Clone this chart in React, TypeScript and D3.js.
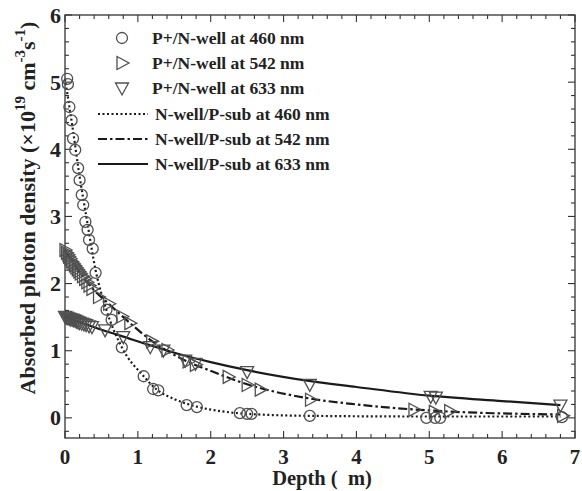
import React, { useEffect, useRef } from "react";
import * as d3 from "d3";

const W = 582;
const H = 491;

const xTicks = [0, 1, 2, 3, 4, 5, 6, 7];
const yTicks = [0, 1, 2, 3, 4, 5, 6];

// P+/N-well at 460 nm (circles)
const c460x = [0.03, 0.04, 0.06, 0.09, 0.11, 0.14, 0.18, 0.2, 0.23, 0.25, 0.28, 0.31, 0.33, 0.38, 0.42, 0.57, 0.64, 0.78, 1.08, 1.21, 1.28, 1.67, 1.81, 2.4, 2.5, 2.56, 3.36, 4.96, 5.08, 5.15, 6.82];
const c460y = [5.05, 4.97, 4.63, 4.43, 4.16, 3.99, 3.72, 3.54, 3.32, 3.17, 2.92, 2.8, 2.65, 2.52, 2.16, 1.61, 1.46, 1.05, 0.62, 0.43, 0.41, 0.19, 0.16, 0.07, 0.06, 0.06, 0.03, 0.0, 0.0, 0.0, 0.01];

// P+/N-well at 542 nm (right triangles)
const t542x = [0.0, 0.02, 0.04, 0.05, 0.07, 0.09, 0.11, 0.13, 0.15, 0.17, 0.19, 0.21, 0.24, 0.27, 0.3, 0.33, 0.37, 0.46, 0.6, 0.78, 0.89, 1.19, 1.4, 1.69, 1.79, 2.24, 2.5, 2.68, 3.37, 4.79, 5.07, 5.28, 6.83];
const t542y = [2.5, 2.46, 2.43, 2.4, 2.37, 2.33, 2.3, 2.27, 2.24, 2.21, 2.18, 2.15, 2.11, 2.07, 2.02, 1.97, 1.92, 1.8, 1.7, 1.51, 1.41, 1.14, 1.01, 0.84, 0.79, 0.61, 0.49, 0.42, 0.27, 0.12, 0.09, 0.1, 0.03];

// P+/N-well at 633 nm (down triangles)
const t633x = [0.0, 0.02, 0.04, 0.06, 0.08, 0.1, 0.12, 0.14, 0.16, 0.18, 0.2, 0.23, 0.26, 0.29, 0.33, 0.37, 0.55, 0.8, 1.17, 1.35, 1.65, 1.79, 2.5, 3.36, 5.02, 5.09, 6.8];
const t633y = [1.51, 1.5, 1.49, 1.48, 1.47, 1.47, 1.46, 1.45, 1.44, 1.43, 1.42, 1.41, 1.4, 1.39, 1.37, 1.36, 1.31, 1.21, 1.06, 1.01, 0.86, 0.81, 0.69, 0.5, 0.32, 0.31, 0.19];

// N-well/P-sub curves
const l460x = [0, 0.1, 0.2, 0.3, 0.42, 0.57, 0.78, 1.08, 1.25, 1.5, 1.8, 2.2, 2.5, 3.35, 5.0, 6.8];
const l460y = [5.05, 4.35, 3.6, 2.95, 2.2, 1.6, 1.05, 0.62, 0.43, 0.28, 0.17, 0.09, 0.06, 0.03, 0.02, 0.02];
const l542x = [0, 0.2, 0.4, 0.6, 0.8, 1.2, 1.6, 2.0, 2.5, 3.35, 4.0, 5.0, 6.8];
const l542y = [2.5, 2.17, 1.9, 1.7, 1.5, 1.14, 0.88, 0.7, 0.5, 0.29, 0.2, 0.11, 0.05];
const l633x = [0, 0.4, 0.8, 1.2, 1.6, 2.0, 2.5, 3.35, 4.0, 5.0, 6.0, 6.8];
const l633y = [1.51, 1.35, 1.21, 1.07, 0.94, 0.83, 0.71, 0.55, 0.46, 0.33, 0.25, 0.19];

const legendLabels = [
  "P+/N-well at 460 nm",
  "P+/N-well at 542 nm",
  "P+/N-well at 633 nm",
  "N-well/P-sub at 460 nm",
  "N-well/P-sub at 542 nm",
  "N-well/P-sub at 633 nm",
];

const FONT = "'Liberation Serif', 'Times New Roman', serif";

export default function App() {
  const ref = useRef<SVGSVGElement>(null);

  useEffect(() => {
    const svg = d3.select(ref.current);
    svg.selectAll("*").remove();

    const left = 65, right = 575, top = 15, bottom = 438;
    const x = d3.scaleLinear().domain([0, 7]).range([left, right]);
    const y = d3.scaleLinear().domain([-0.3, 6]).range([bottom, top]);

    const g = svg.append("g");

    // frame
    g.append("rect")
      .attr("x", left).attr("y", top)
      .attr("width", right - left).attr("height", bottom - top)
      .attr("fill", "none").attr("stroke", "#333").attr("stroke-width", 1.3);

    // ticks
    const xMinor = d3.range(0, 7.001, 0.2);
    const yMinor = d3.range(-0.2, 6.001, 0.2);
    const isMajor = (v: number) => Math.abs(v - Math.round(v)) < 1e-6;
    xMinor.forEach((v) => {
      const len = isMajor(v) ? 7 : 4;
      g.append("line").attr("x1", x(v)).attr("x2", x(v)).attr("y1", bottom).attr("y2", bottom - len).attr("stroke", "#333").attr("stroke-width", 1.1);
      g.append("line").attr("x1", x(v)).attr("x2", x(v)).attr("y1", top).attr("y2", top + len).attr("stroke", "#333").attr("stroke-width", 1.1);
    });
    yMinor.forEach((v) => {
      const len = isMajor(v) ? 7 : 4;
      g.append("line").attr("y1", y(v)).attr("y2", y(v)).attr("x1", left).attr("x2", left + len).attr("stroke", "#333").attr("stroke-width", 1.1);
      g.append("line").attr("y1", y(v)).attr("y2", y(v)).attr("x1", right).attr("x2", right - len).attr("stroke", "#333").attr("stroke-width", 1.1);
    });

    xTicks.forEach((v) => {
      g.append("text").attr("x", x(v)).attr("y", 464)
        .attr("text-anchor", "middle").attr("font-family", FONT).attr("font-weight", "bold")
        .attr("font-size", 21).attr("fill", "#222").text(String(v));
    });
    yTicks.forEach((v) => {
      g.append("text").attr("x", left - 4).attr("y", y(v) + 7.5)
        .attr("text-anchor", "end").attr("font-family", FONT).attr("font-weight", "bold")
        .attr("font-size", 22).attr("fill", "#222").text(String(v));
    });

    // axis titles
    g.append("text").attr("x", 322).attr("y", 485)
      .attr("text-anchor", "middle").attr("font-family", FONT).attr("font-weight", "bold")
      .attr("font-size", 20.5).attr("fill", "#222").text("Depth (\u00a0\u00a0m)");

    const yl = g.append("text")
      .attr("transform", `translate(35, 208) rotate(-90)`)
      .attr("text-anchor", "middle").attr("font-family", FONT).attr("font-weight", "bold")
      .attr("font-size", 22).attr("fill", "#222");
    yl.append("tspan").text("Absorbed photon density (\u00d710");
    yl.append("tspan").attr("dy", -10).attr("font-size", 15).text("19");
    yl.append("tspan").attr("dy", 10).text(" cm");
    yl.append("tspan").attr("dy", -10).attr("font-size", 15).text("-3");
    yl.append("tspan").attr("dy", 10).text("s");
    yl.append("tspan").attr("dy", -10).attr("font-size", 15).text("-1");
    yl.append("tspan").attr("dy", 10).text(")");

    // lines
    const lineGen = d3.line<[number, number]>()
      .x((d) => x(d[0])).y((d) => y(d[1])).curve(d3.curveMonotoneX);
    const mk = (xs: number[], ys: number[]) => xs.map((v, i) => [v, ys[i]] as [number, number]);
    const lineStyles = [
      { xs: l460x, ys: l460y, dash: "2,2.5" },
      { xs: l542x, ys: l542y, dash: "9,3,2.5,3" },
      { xs: l633x, ys: l633y, dash: null },
    ];
    lineStyles.forEach((s) => {
      const p = g.append("path").attr("d", lineGen(mk(s.xs, s.ys)) || "")
        .attr("fill", "none").attr("stroke", "#1a1a1a").attr("stroke-width", 2.2);
      if (s.dash) p.attr("stroke-dasharray", s.dash);
    });

    // markers
    const mColor = "#505050";
    const circle = (cx: number, cy: number) =>
      g.append("circle").attr("cx", cx).attr("cy", cy).attr("r", 5.5)
        .attr("fill", "none").attr("stroke", mColor).attr("stroke-width", 1.3);
    const rightTri = (cx: number, cy: number) =>
      g.append("path").attr("d", `M${cx - 5},${cy - 6.5}L${cx + 7},${cy}L${cx - 5},${cy + 6.5}Z`)
        .attr("fill", "none").attr("stroke", mColor).attr("stroke-width", 1.3);
    const downTri = (cx: number, cy: number) =>
      g.append("path").attr("d", `M${cx - 6.5},${cy - 5}L${cx + 6.5},${cy - 5}L${cx},${cy + 7}Z`)
        .attr("fill", "none").attr("stroke", mColor).attr("stroke-width", 1.3);

    c460x.forEach((v, i) => circle(x(v), y(c460y[i])));
    t542x.forEach((v, i) => rightTri(x(v), y(t542y[i])));
    t633x.forEach((v, i) => downTri(x(v), y(t633y[i])));

    // legend
    const rows = [38, 63, 88, 114, 139, 164];
    const symX = 122;
    circle(symX, rows[0]);
    rightTri(symX, rows[1]);
    downTri(symX, rows[2]);
    const legLines = [
      { dash: "2,2.5" },
      { dash: "9,3,2.5,3" },
      { dash: null },
    ];
    legLines.forEach((s, i) => {
      const l = g.append("line").attr("x1", 98).attr("x2", 148)
        .attr("y1", rows[3 + i]).attr("y2", rows[3 + i])
        .attr("stroke", "#1a1a1a").attr("stroke-width", 2.2);
      if (s.dash) l.attr("stroke-dasharray", s.dash);
    });
    legendLabels.forEach((t, i) => {
      g.append("text").attr("x", i < 3 ? 152 : 155).attr("y", rows[i] + 6)
        .attr("font-family", FONT).attr("font-weight", "bold")
        .attr("font-size", 17.5).attr("fill", "#222").text(t);
    });
  }, []);

  return (
    <svg
      ref={ref}
      width={W}
      height={H}
      style={{ position: "absolute", left: 0, top: 0, background: "#fff" }}
    />
  );
}
